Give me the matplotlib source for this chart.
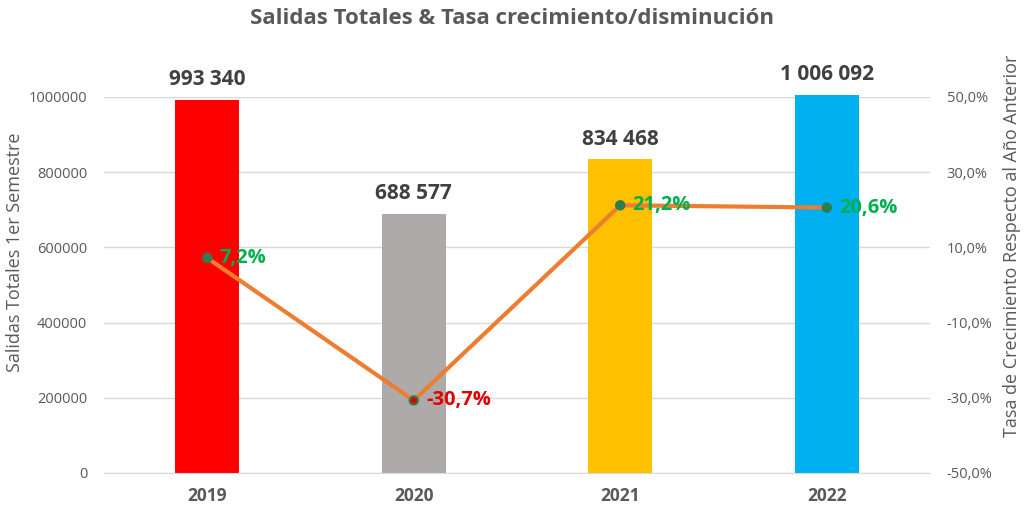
import matplotlib
matplotlib.use("Agg")
import matplotlib.pyplot as plt
from matplotlib.ticker import FuncFormatter

plt.rcParams['font.family'] = ['Open Sans', 'DejaVu Sans']

years = ["2019", "2020", "2021", "2022"]
salidas = [993340, 688577, 834468, 1006092]
salidas_labels = ["993 340", "688 577", "834 468", "1 006 092"]
tasa = [7.2, -30.7, 21.2, 20.6]
tasa_labels = ["7,2%", "-30,7%", "21,2%", "20,6%"]
bar_colors = ["#FF0000", "#AEAAAA", "#FFC000", "#00B0F0"]
label_colors = ["#00B050", "#E00000", "#00B050", "#00B050"]
marker_face = ["#2E7D4F", "#E00000", "#2E7D4F", "#2E7D4F"]

fig = plt.figure(figsize=(10.24, 5.15), dpi=100)
ax = fig.add_axes([104/1024, 42/515, (930-104)/1024, (473-97)/515])
x = list(range(len(years)))

bars = ax.bar(x, salidas, width=0.31, color=bar_colors, zorder=2, clip_on=False)
ax.set_ylim(0, 1000000)
ax.set_xlim(-0.5, 3.5)
ax.set_yticks([0, 200000, 400000, 600000, 800000, 1000000])
ax.yaxis.set_major_formatter(FuncFormatter(lambda v, p: f"{int(v)}"))
ax.grid(axis='y', color='#D9D9D9', linewidth=1, zorder=0)
ax.set_axisbelow(True)
for s in ax.spines.values():
    s.set_visible(False)
ax.spines['bottom'].set_visible(True)
ax.spines['bottom'].set_color('#D9D9D9')
ax.set_xticks(x)
ax.set_xticklabels(years, fontsize=12.5, fontweight='bold', color='#595959')
ax.tick_params(axis='both', length=0)
ax.tick_params(axis='x', pad=10)
ax.tick_params(axis='y', labelsize=10.5, labelcolor='#595959', pad=12)

for xi, v, lab in zip(x, salidas, salidas_labels):
    ax.annotate(lab, (xi, v), xytext=(0, 7), textcoords='offset points',
                ha='center', va='bottom', fontsize=15, fontweight='bold', color='#404040',
                annotation_clip=False)

ax2 = ax.twinx()
ax2.set_ylim(-50, 50)
ax2.set_yticks([-50, -30, -10, 10, 30, 50])
ax2.yaxis.set_major_formatter(FuncFormatter(lambda v, p: f"{v:.1f}%".replace('.', ',')))
for s in ax2.spines.values():
    s.set_visible(False)
ax2.tick_params(axis='y', length=0, labelsize=10.5, labelcolor='#595959', pad=12)

ax2.plot(x, tasa, color='#ED7D31', linewidth=3, zorder=3)
ax2.scatter(x, tasa, s=36, c=marker_face, edgecolors='#2E7D4F', linewidths=1.5, zorder=4)
for xi, v, lab, c in zip(x, tasa, tasa_labels, label_colors):
    ax2.annotate(lab, (xi, v), xytext=(9, 0), textcoords='offset points',
                 ha='left', va='center', fontsize=14.5, fontweight='bold', color=c, zorder=5,
                 annotation_clip=False)

fig.text(15/1024, 1 - 252/515, "Salidas Totales 1er Semestre", rotation=90,
         ha='center', va='center', fontsize=13, color='#595959')
fig.text(1012/1024, 1 - 246/515, "Tasa de Crecimiento Respecto al Año Anterior", rotation=90,
         ha='center', va='center', fontsize=13, color='#595959')

fig.suptitle("Salidas Totales & Tasa crecimiento/disminución", x=0.5, y=0.985,
             fontsize=16, fontweight='bold', color='#595959')

fig.savefig("out.png", dpi=100)
